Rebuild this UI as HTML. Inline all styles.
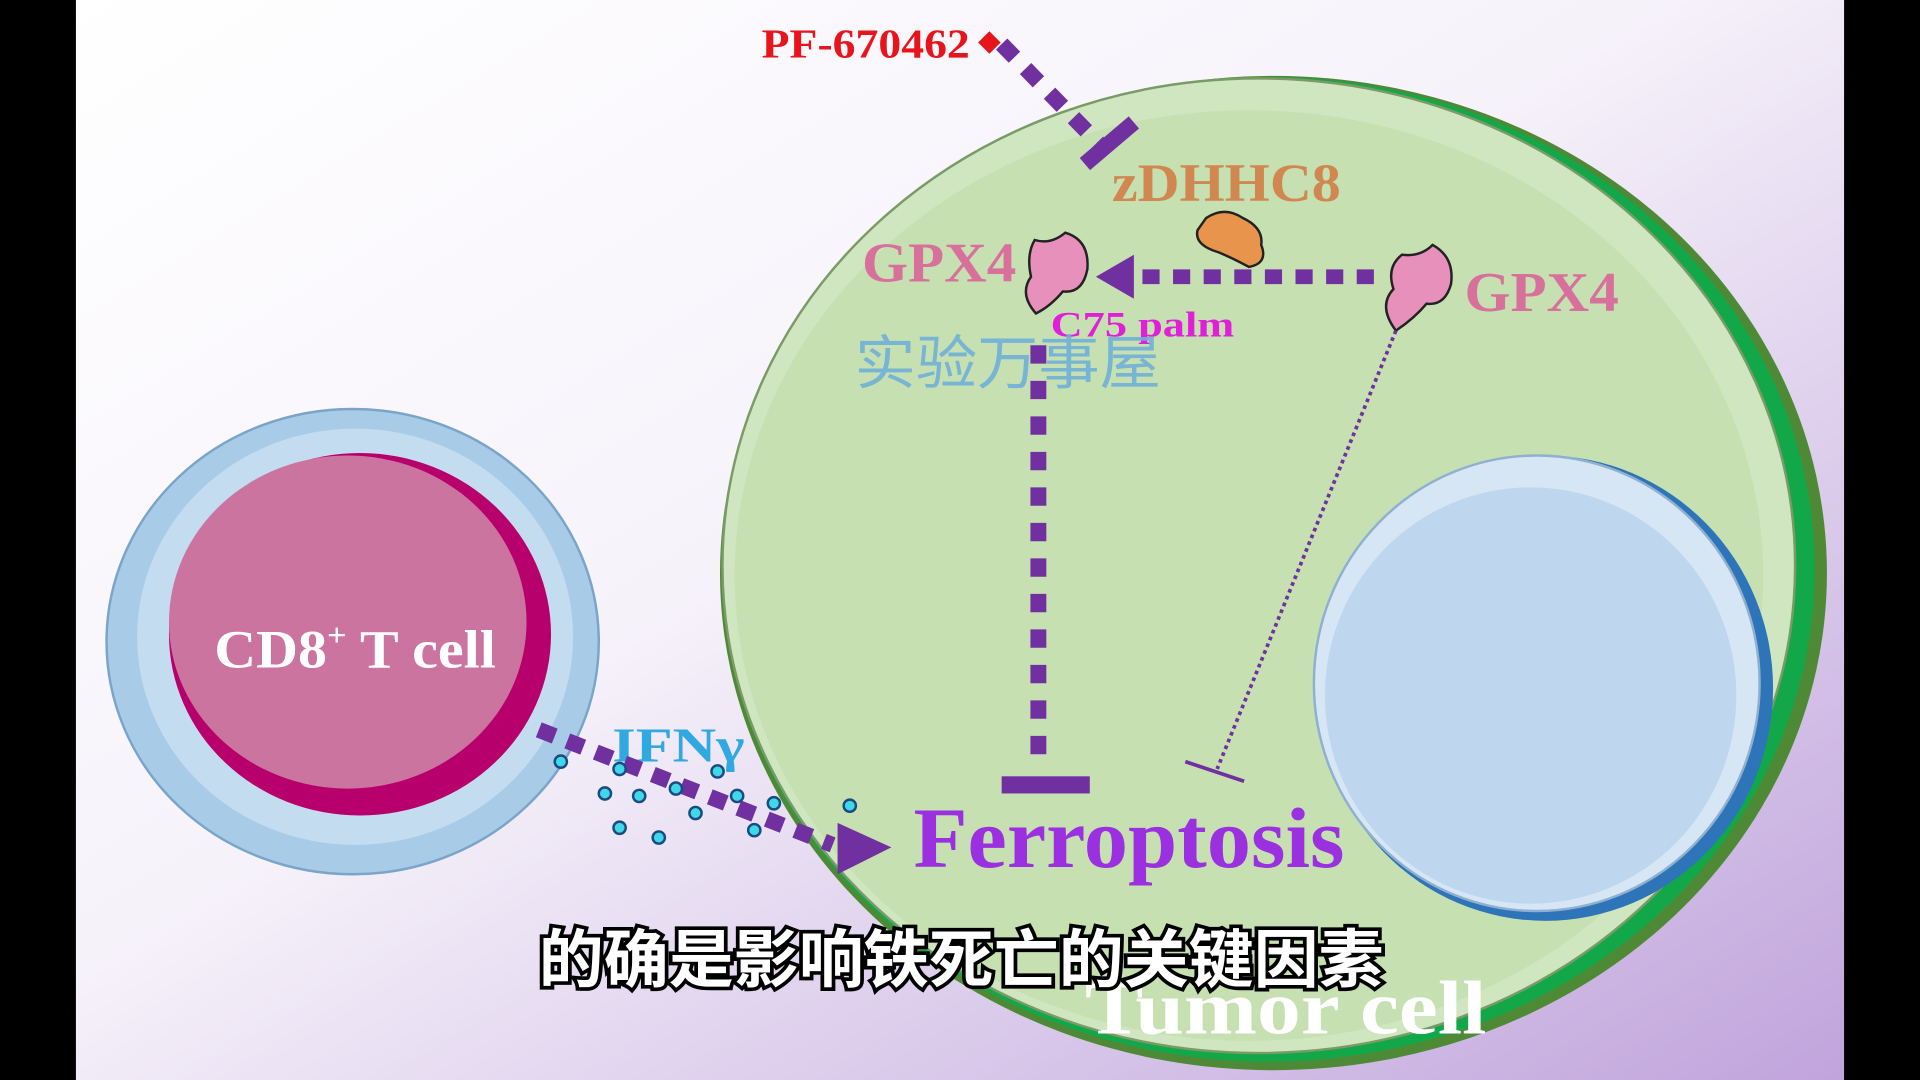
<!DOCTYPE html>
<html><head><meta charset="utf-8"><style>
html,body{margin:0;padding:0;width:1920px;height:1080px;overflow:hidden;background:#000}
svg{display:block}
</style></head><body>
<svg width="1920" height="1080" viewBox="0 0 1568 882" preserveAspectRatio="none" xmlns="http://www.w3.org/2000/svg">
<defs>
<linearGradient id="bg" x1="0" y1="0" x2="1" y2="1">
<stop offset="0" stop-color="#ffffff"/><stop offset="0.45" stop-color="#f6f2fa"/><stop offset="1" stop-color="#c0a4dc"/>
</linearGradient>
</defs>
<rect x="0" y="0" width="1568" height="882" fill="#000"/>
<rect x="62" y="0" width="1444" height="882" fill="url(#bg)"/>
<!-- tumor cell -->
<ellipse cx="1040" cy="468" rx="452" ry="406" fill="#4e8a36"/>
<ellipse cx="1036" cy="465" rx="446" ry="402" fill="#12a84a"/>
<ellipse cx="1028" cy="462" rx="438" ry="398" fill="#cfe6c0" stroke="#7a9a68" stroke-width="2"/>
<ellipse cx="1020" cy="470" rx="420" ry="380" fill="#c6e0b2"/>
<!-- nucleus -->
<ellipse cx="1262" cy="562" rx="186" ry="190" fill="#2e74b8"/>
<ellipse cx="1255" cy="558" rx="182" ry="186" fill="#d6e6f4" stroke="#8fb0d0" stroke-width="2"/>
<ellipse cx="1250" cy="568" rx="168" ry="170" fill="#bed6ee"/>
<!-- CD8 cell -->
<ellipse cx="288" cy="524" rx="201" ry="190" fill="#a8cce8" stroke="#7aa4c8" stroke-width="2"/>
<ellipse cx="290" cy="520" rx="178" ry="170" fill="#c4dcf0"/>
<ellipse cx="294" cy="518" rx="156" ry="148" fill="#b8006c"/>
<ellipse cx="284" cy="508" rx="146" ry="136" fill="#cc74a0"/>
<text x="175" y="545" font-family="Liberation Serif,serif" font-weight="bold" font-size="44" fill="#fff" textLength="230" lengthAdjust="spacingAndGlyphs">CD8<tspan font-size="26" dy="-18">+</tspan><tspan dy="18"> T cell</tspan></text>
<!-- PF inhibitor -->
<text x="622" y="47" font-family="Liberation Serif,serif" font-weight="bold" font-size="34" fill="#e8141c" textLength="170" lengthAdjust="spacingAndGlyphs">PF-670462</text>
<rect x="802" y="28" width="13" height="13" fill="#e8141c" transform="rotate(45 808 34)"/>
<line x1="818" y1="36" x2="900" y2="120" stroke="#7030a0" stroke-width="13" stroke-dasharray="15 13"/>
<line x1="886" y1="134" x2="926" y2="100" stroke="#7030a0" stroke-width="13"/>
<text x="908" y="164" font-family="Liberation Serif,serif" font-weight="bold" font-size="44" fill="#d08850" textLength="187" lengthAdjust="spacingAndGlyphs">zDHHC8</text>
<!-- zDHHC8 blob -->
<path d="M985 178 Q1000 168 1015 178 Q1032 186 1030 200 Q1036 215 1020 218 Q1005 210 995 206 Q975 200 978 188 Z" fill="#e8944c" stroke="#222" stroke-width="2"/>
<!-- GPX4 left -->
<text x="704" y="230" font-family="Liberation Serif,serif" font-weight="bold" font-size="46" fill="#d8709c" textLength="126" lengthAdjust="spacingAndGlyphs">GPX4</text>
<path d="M845 196 Q858 200 870 190 Q890 196 888 220 Q884 240 868 238 Q858 250 846 256 Q832 240 842 226 Q838 208 845 196 Z" fill="#e890bc" stroke="#222" stroke-width="2"/>
<!-- GPX4 right -->
<text x="1196" y="254" font-family="Liberation Serif,serif" font-weight="bold" font-size="46" fill="#d8709c" textLength="126" lengthAdjust="spacingAndGlyphs">GPX4</text>
<path d="M1145 208 Q1160 210 1170 200 Q1188 210 1185 232 Q1180 250 1165 248 Q1155 260 1140 270 Q1125 250 1138 236 Q1132 218 1145 208 Z" fill="#e890bc" stroke="#222" stroke-width="2"/>
<!-- arrow right->left -->
<line x1="1122" y1="226" x2="922" y2="226" stroke="#7030a0" stroke-width="12" stroke-dasharray="14 11"/>
<polygon points="895,226 926,208 926,244" fill="#7030a0"/>
<text x="858" y="275" font-family="Liberation Serif,serif" font-weight="bold" font-size="29" fill="#e020d8" textLength="150" lengthAdjust="spacingAndGlyphs">C75 palm</text>
<!-- vertical inhibition -->
<line x1="848" y1="282" x2="848" y2="628" stroke="#7030a0" stroke-width="13" stroke-dasharray="15 14"/>
<rect x="818" y="634" width="72" height="14" fill="#7030a0"/>
<!-- thin dotted inhibition -->
<line x1="1140" y1="270" x2="994" y2="628" stroke="#7030a0" stroke-width="3" stroke-dasharray="3 3"/>
<line x1="968" y1="622" x2="1016" y2="638" stroke="#7030a0" stroke-width="3"/>
<text x="698" y="313" font-family="Liberation Sans,Noto Sans CJK SC,sans-serif" font-size="48" fill="#70b0d8" opacity="0.9" textLength="250" lengthAdjust="spacingAndGlyphs">实验万事屋</text>
<!-- IFNg -->
<text x="500" y="622" font-family="Liberation Serif,serif" font-weight="bold" font-size="40" fill="#30a8e0" textLength="108" lengthAdjust="spacingAndGlyphs">IFNγ</text>
<line x1="440" y1="596" x2="680" y2="690" stroke="#7030a0" stroke-width="13" stroke-dasharray="14 11"/>
<polygon points="728,692 684,672 684,714" fill="#7030a0"/>
<g fill="#40d8e8" stroke="#1a4a80" stroke-width="2">
<circle cx="458" cy="622" r="5"/><circle cx="506" cy="628" r="5"/><circle cx="586" cy="630" r="5"/>
<circle cx="494" cy="648" r="5"/><circle cx="522" cy="650" r="5"/><circle cx="552" cy="644" r="5"/>
<circle cx="602" cy="650" r="5"/><circle cx="632" cy="656" r="5"/><circle cx="694" cy="658" r="5"/>
<circle cx="568" cy="664" r="5"/><circle cx="506" cy="676" r="5"/><circle cx="538" cy="684" r="5"/><circle cx="616" cy="678" r="5"/>
</g>
<text x="746" y="708" font-family="Liberation Serif,serif" font-weight="bold" font-size="70" fill="#9b30e0" textLength="352" lengthAdjust="spacingAndGlyphs">Ferroptosis</text>
<text x="886" y="844" font-family="Liberation Serif,serif" font-weight="bold" font-size="62" fill="#ffffff" textLength="328" lengthAdjust="spacingAndGlyphs">Tumor cell</text>
<text x="440" y="802" font-family="Noto Sans CJK SC,sans-serif" font-weight="bold" font-size="52" fill="#fff" stroke="#000" stroke-width="6" paint-order="stroke" textLength="690" lengthAdjust="spacingAndGlyphs">的确是影响铁死亡的关键因素</text>
</svg>
</body></html>
